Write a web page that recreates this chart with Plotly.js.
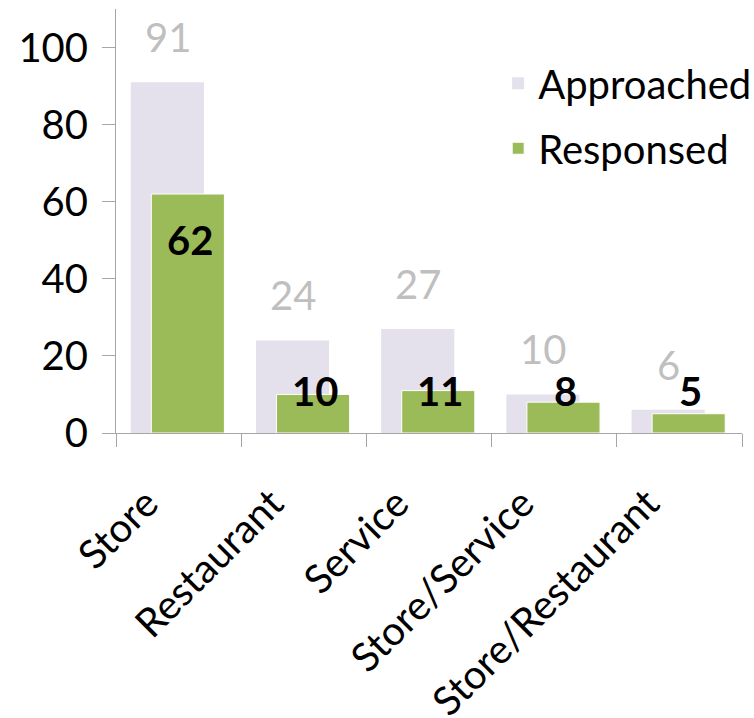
<!DOCTYPE html>
<html>
<head>
<meta charset="utf-8">
<script src="https://cdn.plot.ly/plotly-3.0.1.min.js"></script>
<style>
html,body{margin:0;padding:0;background:#fff;}
#chart{width:754px;height:718px;}
</style>
</head>
<body>
<div id="chart"></div>
<script>
const categories = ["Store", "Restaurant", "Service", "Store/Service", "Store/Restaurant"];
const approached = [91, 24, 27, 10, 6];
const responsed = [62, 10, 11, 8, 5];
const seriesNames = ["Approached", "Responsed"];
const yTicks = [0, 20, 40, 60, 80, 100];

const FONT = "Lato, 'Open Sans', sans-serif";
const FS = 40;
const axisGrey = "#a6a6a6";

const traces = [
  {
    type: "bar",
    name: seriesNames[0],
    legendgroup: "a",
    x: categories,
    y: approached,
    width: 0.584,
    offset: -0.382,
    marker: {color: "#e4e0ec"},
    hoverinfo: "x+y+name"
  },
  {
    type: "bar",
    name: seriesNames[1],
    legendgroup: "r",
    x: categories,
    y: responsed,
    width: 0.584,
    offset: -0.218,
    marker: {color: "#9bbb59", line: {color: "#ffffff", width: 1}},
    hoverinfo: "x+y+name"
  }
];

const annotations = [];
categories.forEach((c, i) => {
  annotations.push({
    x: c, y: approached[i], xref: "x", yref: "y",
    text: String(approached[i]), showarrow: false,
    xshift: -11, yshift: 19, yanchor: "bottom",
    font: {family: FONT, size: FS, color: "#bfbfbf"}
  });
  annotations.push({
    x: c, y: Math.max(responsed[i] - 11.9, 11), xref: "x", yref: "y",
    text: "<b>" + responsed[i] + "</b>", showarrow: false,
    xshift: 11, yanchor: "middle",
    font: {family: FONT, size: FS, color: "#000000"}
  });
});

const layout = {
  width: 754,
  height: 718,
  margin: {l: 116, r: 12, t: 9, b: 285, autoexpand: false},
  paper_bgcolor: "#ffffff",
  plot_bgcolor: "#ffffff",
  barmode: "overlay",
  font: {family: FONT, size: FS, color: "#000000"},
  showlegend: true,
  legend: {
    x: 0.6105, y: 0.9015, xanchor: "left", yanchor: "top",
    font: {family: FONT, size: FS, color: "#000000"},
    bgcolor: "rgba(0,0,0,0)",
    traceorder: "grouped",
    tracegroupgap: 10
  },
  xaxis: {
    type: "category",
    automargin: false,
    tickson: "boundaries",
    ticks: "outside",
    ticklen: 13,
    tickcolor: axisGrey,
    showline: true,
    linecolor: axisGrey,
    linewidth: 1,
    showgrid: false,
    tickangle: -45,
    ticklabelstandoff: 30,
    ticklabelshift: -32,
    tickfont: {family: FONT, size: FS, color: "#000000"}
  },
  yaxis: {
    automargin: false,
    range: [0, 110],
    tickvals: yTicks,
    ticktext: yTicks.map(String),
    ticks: "outside",
    ticklen: 13,
    tickcolor: axisGrey,
    showline: true,
    linecolor: axisGrey,
    linewidth: 1,
    showgrid: false,
    zeroline: false,
    ticklabelstandoff: 6,
    tickfont: {family: FONT, size: FS, color: "#000000"}
  },
  annotations: annotations
};

Plotly.newPlot("chart", traces, layout, {displayModeBar: false, staticPlot: true});
</script>
</body>
</html>
